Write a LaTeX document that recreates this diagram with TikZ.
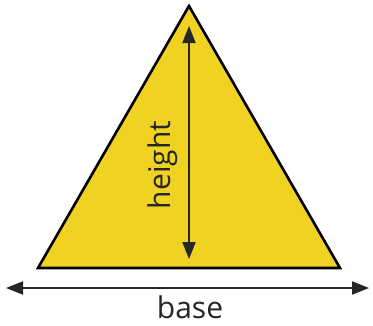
\documentclass[tikz,border=0pt]{standalone}
\usepackage{fontspec}
\setmainfont{Open Sans}
\usetikzlibrary{arrows.meta}
\begin{document}
\begin{tikzpicture}[x=1pt,y=-1pt,
  tri/.style={fill=triyellow,draw=black,line width=2.6pt,line join=miter},
  dim/.style={draw=arrowgray,line width=2pt,{Triangle[length=17pt,width=13pt]}-{Triangle[length=17pt,width=13pt]}},
  lbl/.style={font=\fontsize{30}{32}\selectfont,text=arrowgray,inner sep=0pt}]
\definecolor{triyellow}{HTML}{F0D322}
\definecolor{arrowgray}{HTML}{262626}
\useasboundingbox (0,0) rectangle (373,325);
\coordinate (A) at (189,6);
\coordinate (B) at (38,268);
\coordinate (C) at (340,268);
\filldraw[tri] (A) -- (B) -- (C) -- cycle;
\coordinate (ht) at (189,26);
\coordinate (hb) at (189,259);
\draw[dim] (ht) -- (hb);
\coordinate (bl) at (6,288);
\coordinate (br) at (369,288);
\draw[dim] (bl) -- (br);
\node[lbl,rotate=90] (h) at (163,165) {height};
\node[lbl,anchor=base] (b) at (190,318) {base};
\end{tikzpicture}
\end{document}
